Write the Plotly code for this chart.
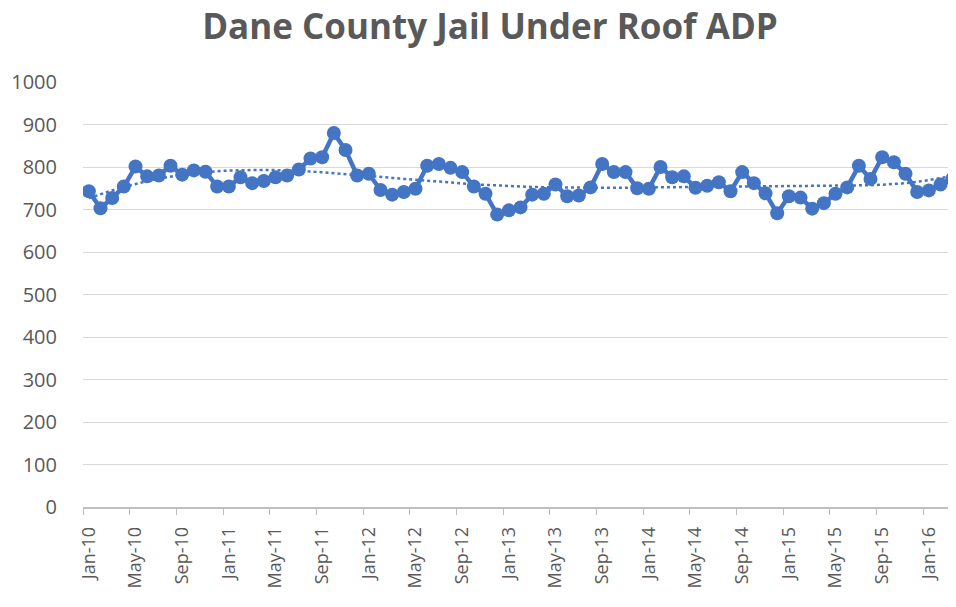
import numpy as np
import plotly.graph_objects as go

months = ["Jan","Feb","Mar","Apr","May","Jun","Jul","Aug","Sep","Oct","Nov","Dec"]
dates = [f"{months[m]}-{10 + y}" for y in range(7) for m in range(12)][:75]

adp = [743, 703, 727, 754, 801, 778, 780, 803, 782, 792, 789, 754,
       754, 776, 762, 767, 776, 780, 794, 820, 823, 880, 840, 780,
       784, 746, 735, 741, 749, 803, 807, 798, 788, 754, 737, 688,
       698, 705, 735, 737, 759, 731, 733, 752, 807, 788, 788, 750,
       749, 800, 776, 778, 751, 756, 764, 743, 788, 762, 738, 691,
       731, 728, 702, 715, 737, 752, 803, 772, 823, 811, 784, 741,
       745, 759, 772]

tick_labels = dates[::4]
y_ticks = list(range(0, 1001, 100))

idx = np.arange(len(adp))
xs = (idx - idx.mean()) / idx.std()
coef = np.polyfit(xs, adp, 6)
trend = np.polyval(coef, xs)

blue = "#4475C4"
grey = "#595959"
font = "Open Sans"

# page body has an 8px margin: figure is sized/positioned to compensate
W, H = 948, 599

fig = go.Figure()
fig.add_trace(go.Scatter(
    x=idx, y=trend, mode="lines",
    line=dict(color=blue, width=2.5, dash="dot"),
    hoverinfo="skip", showlegend=False))
fig.add_trace(go.Scatter(
    x=idx, y=adp, mode="lines+markers",
    line=dict(color=blue, width=4.5),
    marker=dict(color=blue, size=14),
    text=dates, hovertemplate="%{text}: %{y}<extra></extra>",
    showlegend=False))

fig.update_layout(
    width=W, height=H,
    margin=dict(l=75, r=0, t=74, b=100),
    paper_bgcolor="white", plot_bgcolor="white",
    font=dict(family=font, color=grey, size=19),
    title=dict(text="<b>Dane County Jail Under Roof ADP</b>",
               x=482/W, xanchor="center", xref="container",
               y=1 - 19/H, yanchor="middle", yref="container",
               font=dict(family=font, size=35, color=grey)),
)
fig.update_xaxes(
    range=[-0.5, -0.5 + 873/11.667],
    tickmode="array", tickvals=idx[::4], ticktext=tick_labels,
    tickangle=-90, ticks="", ticklabelstandoff=11,
    tickfont=dict(size=18, color=grey, family=font),
    showgrid=False, zeroline=False,
    showline=True, linecolor="#bfbfbf", linewidth=1.5,
    minor=dict(tick0=-0.5, dtick=4, ticks="outside", ticklen=6,
               tickcolor="#bfbfbf", showgrid=False),
)
fig.update_yaxes(
    range=[0, 1000], tickmode="array", tickvals=y_ticks,
    showgrid=True, gridcolor="#d9d9d9", gridwidth=1,
    zeroline=False, showline=False, ticks="",
    ticklabelstandoff=25,
    tickfont=dict(size=20, color=grey, family=font),
)

fig.write_html("out.html")
